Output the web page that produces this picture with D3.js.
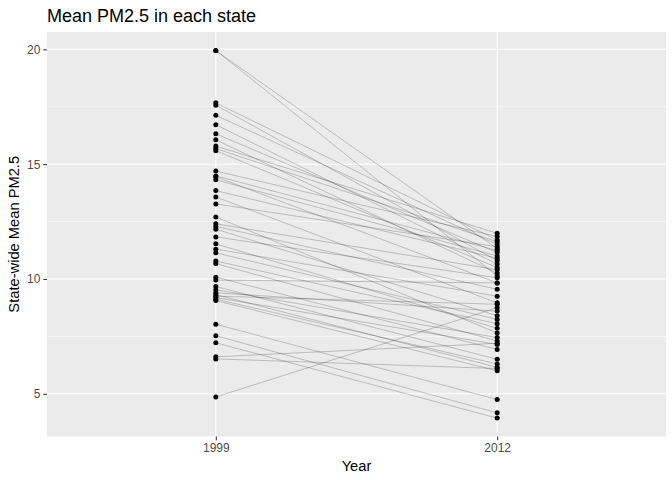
<!DOCTYPE html>
<html><head><meta charset="utf-8">
<script src="https://cdn.jsdelivr.net/npm/d3@7"></script>
<style>body{margin:0;background:#fff}svg{display:block}text{font-family:"Liberation Sans",Arial,sans-serif}</style>
</head><body>
<svg id="c" width="672" height="480"></svg>
<script>
const years = ["1999", "2012"];
const mean1999 = [19.956,19.943,17.67,17.57,17.13,16.72,16.32,16.06,15.787,15.68,15.59,14.70,14.49,14.45,14.32,13.85,13.57,13.27,12.70,12.40,12.29,12.17,11.83,11.53,11.30,11.137,10.78,10.67,10.08,9.95,9.67,9.53,9.40,9.32,9.25,9.19,9.12,9.06,8.03,7.53,7.22,6.61,6.52,4.862];
const mean2012 = [10.13,11.32,11.70,10.80,11.50,10.65,11.15,10.25,11.99,11.62,10.50,11.85,11.24,9.83,11.00,10.90,8.96,11.40,7.65,10.40,9.55,8.40,10.05,7.85,9.25,8.24,8.05,7.30,6.93,9.83,6.50,7.45,8.60,6.15,8.90,7.15,6.30,6.00,4.75,4.17,3.94,7.20,6.10,8.749];
const yTicks = [5, 10, 15, 20];
const yMinor = [7.5, 12.5, 17.5];

const svg = d3.select("#c");
const L = 47, R = 666, T = 32, B = 436.5;
const all = mean1999.concat(mean2012);
const lo = d3.min(all), hi = d3.max(all), pad = (hi - lo) * 0.05;
const y = d3.scaleLinear().domain([lo - pad, hi + pad]).range([B, T]);
const x = d3.scalePoint().domain(years).range([L, R]).padding(0.6);

svg.append("rect").attr("x", L).attr("y", T).attr("width", R - L).attr("height", B - T).attr("fill", "#EBEBEB");
svg.selectAll(".ymin").data(yMinor).join("line")
  .attr("x1", L).attr("x2", R).attr("y1", d => y(d)).attr("y2", d => y(d))
  .attr("stroke", "#fff").attr("stroke-width", 0.55);
svg.selectAll(".ymaj").data(yTicks).join("line")
  .attr("x1", L).attr("x2", R).attr("y1", d => y(d)).attr("y2", d => y(d))
  .attr("stroke", "#fff").attr("stroke-width", 1.1);
svg.selectAll(".xmaj").data(years).join("line")
  .attr("x1", d => x(d)).attr("x2", d => x(d)).attr("y1", T).attr("y2", B)
  .attr("stroke", "#fff").attr("stroke-width", 1.1);

const pairs = mean1999.map((v, i) => [v, mean2012[i]]);
svg.append("g").selectAll("line").data(pairs).join("line")
  .attr("x1", x("1999")).attr("x2", x("2012"))
  .attr("y1", d => y(d[0])).attr("y2", d => y(d[1]))
  .attr("stroke", "#000").attr("stroke-opacity", 0.38).attr("stroke-width", 0.55);

svg.append("g").selectAll("circle").data(mean1999).join("circle")
  .attr("cx", x("1999")).attr("cy", d => y(d)).attr("r", 2.5).attr("fill", "#000");
svg.append("g").selectAll("circle").data(mean2012).join("circle")
  .attr("cx", x("2012")).attr("cy", d => y(d)).attr("r", 2.5).attr("fill", "#000");

const ya = svg.append("g").attr("transform", `translate(${L},0)`)
  .call(d3.axisLeft(y).tickValues(yTicks).tickSize(3.67).tickPadding(2.9).tickFormat(d3.format("d")));
const xa = svg.append("g").attr("transform", `translate(0,${B})`)
  .call(d3.axisBottom(x).tickSize(3.67).tickPadding(2.9));
[ya, xa].forEach(a => {
  a.select(".domain").remove();
  a.selectAll(".tick line").attr("stroke", "#333").attr("stroke-width", 1.07);
  a.selectAll(".tick text").attr("fill", "#4D4D4D").style("font-size", "12px");
});

svg.append("text").attr("x", L).attr("y", 22).attr("font-size", "18px").attr("fill", "#000").text("Mean PM2.5 in each state");
svg.append("text").attr("x", (L + R) / 2).attr("y", 471).attr("text-anchor", "middle").attr("font-size", "14.7px").text("Year");
svg.append("text").attr("transform", `translate(19,${(T + B) / 2}) rotate(-90)`).attr("text-anchor", "middle").attr("font-size", "14.7px").text("State-wide Mean PM2.5");
</script>
</body></html>
